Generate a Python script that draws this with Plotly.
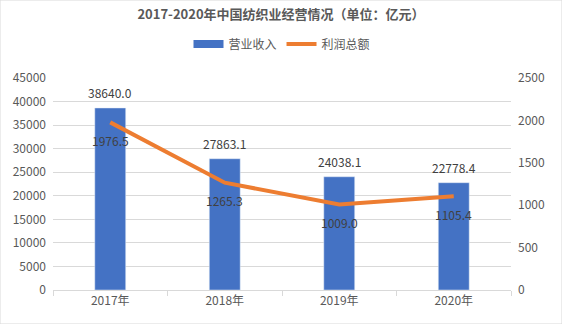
import plotly.graph_objects as go

years = ["2017年", "2018年", "2019年", "2020年"]
revenue = [38640.0, 27863.1, 24038.1, 22778.4]
profit = [1976.5, 1265.3, 1009.0, 1105.4]

FONT = "Noto Sans CJK SC, Microsoft YaHei, sans-serif"
TXT = "#595959"
LBL = "#404040"
BLUE = "#4472C4"
ORANGE = "#ED7D31"

fig = go.Figure()
fig.add_trace(go.Bar(
    x=years, y=revenue, name="营业收入", marker_color=BLUE, showlegend=False,
))
fig.add_trace(go.Scatter(
    x=[None], y=[None], name="营业收入", mode="lines",
    line=dict(color=BLUE, width=8),
))
fig.add_trace(go.Scatter(
    x=years, y=profit, name="利润总额", yaxis="y2", mode="lines",
    line=dict(color=ORANGE, width=4),
))

annotations = []
for x, v in zip(years, revenue):
    annotations.append(dict(x=x, y=v, xref="x", yref="y", text=f"{v:.1f}",
                            showarrow=False, yanchor="middle", yshift=15,
                            font=dict(size=12, color=LBL)))
for x, v in zip(years, profit):
    annotations.append(dict(x=x, y=v, xref="x", yref="y2", text=f"{v:.1f}",
                            showarrow=False, yanchor="middle", yshift=-18,
                            font=dict(size=12, color=LBL)))

fig.update_layout(
    width=562, height=324,
    margin=dict(l=53, r=51, t=78, b=34),
    paper_bgcolor="white", plot_bgcolor="white",
    font=dict(family=FONT, size=12, color=TXT),
    title=dict(text="<b>2017-2020年中国纺织业经营情况（单位：亿元）</b>",
               x=0.5, xanchor="center", y=0.955, yanchor="middle",
               font=dict(size=13, color=TXT)),
    legend=dict(orientation="h", x=0.5, xanchor="center", y=1.16, yanchor="middle",
                font=dict(size=12, color=TXT), itemwidth=30, traceorder="normal"),
    bargap=0.73,
    xaxis=dict(showgrid=False, showline=True, linecolor="#d9d9d9",
               ticks="outside", tickson="boundaries", ticklen=5, tickcolor="#d9d9d9",
               tickfont=dict(size=12, color=TXT)),
    yaxis=dict(range=[0, 45000], dtick=5000, tickformat="d", showgrid=True,
               gridcolor="#d9d9d9", zeroline=False,
               tickfont=dict(size=12, color=TXT), ticklabelstandoff=6),
    yaxis2=dict(range=[0, 2500], dtick=500, tickformat="d", overlaying="y", side="right",
                showgrid=False, zeroline=False, tickfont=dict(size=12, color=TXT),
                ticklabelstandoff=6),
    annotations=annotations,
    shapes=[dict(type="rect", xref="paper", yref="paper", x0=-53/458, x1=1+51/458,
                 y0=-34/212, y1=1+78/212, line=dict(color="#d9d9d9", width=1))],
)

fig.write_html("out.html")
